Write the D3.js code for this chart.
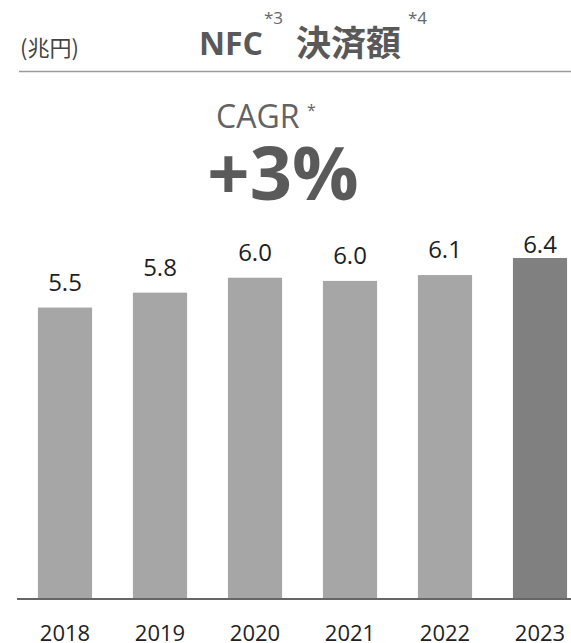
<html>
<head>
<meta charset="utf-8">
<script src="https://d3js.org/d3.v7.min.js"></script>
<style>
    body { margin: 0; background: #ffffff; font-family: "Open Sans", "Noto Sans CJK JP", sans-serif; }
    svg { display: block; }
</style>
</head>
<body>
<div id="chart"></div>
<script>
    // data
    var years = ["2018", "2019", "2020", "2021", "2022", "2023"];
    var values = [5.47, 5.75, 6.03, 5.97, 6.08, 6.40];
    var labels = ["5.5", "5.8", "6.0", "6.0", "6.1", "6.4"];

    var width = 571, height = 643;
    var baseY = 599;

    var svg = d3.select("#chart").append("svg")
        .attr("width", width)
        .attr("height", height);

    var x = d3.scaleBand()
        .domain(years)
        .range([17.5, 587.5])
        .paddingInner(0.43)
        .paddingOuter(0.215);

    var y = d3.scaleLinear()
        .domain([0, 6.4])
        .range([baseY, 258]);

    // header
    svg.append("text")
        .attr("x", 20).attr("y", 56)
        .attr("font-family", "'Noto Sans CJK JP'")
        .attr("font-size", 22)
        .attr("fill", "#444")
        .text("(兆円)");

    svg.append("text")
        .attr("x", 199).attr("y", 55)
        .attr("font-family", "'Open Sans'")
        .attr("font-weight", "bold")
        .attr("font-size", 32)
        .attr("fill", "#595959")
        .text("NFC");
    svg.append("text")
        .attr("x", 264).attr("y", 24)
        .attr("font-family", "'Open Sans'")
        .attr("font-size", 17)
        .attr("fill", "#666")
        .text("*3");
    svg.append("text")
        .attr("x", 296).attr("y", 56)
        .attr("font-family", "'Noto Sans CJK JP'")
        .attr("font-weight", "bold")
        .attr("font-size", 35)
        .attr("fill", "#595959")
        .text("決済額");
    svg.append("text")
        .attr("x", 408).attr("y", 24)
        .attr("font-family", "'Open Sans'")
        .attr("font-size", 17)
        .attr("fill", "#666")
        .text("*4");

    svg.append("line")
        .attr("x1", 19).attr("x2", width)
        .attr("y1", 71.5).attr("y2", 71.5)
        .attr("stroke", "#9a9a9a")
        .attr("stroke-width", 1.5);

    // CAGR
    svg.append("text")
        .attr("x", 216).attr("y", 128)
        .attr("font-family", "'Open Sans'")
        .attr("font-size", 32)
        .attr("fill", "#636363")
        .text("CAGR");
    svg.append("text")
        .attr("x", 307).attr("y", 116)
        .attr("font-family", "'Open Sans'")
        .attr("font-size", 16)
        .attr("fill", "#636363")
        .text("*");
    svg.append("text")
        .attr("x", 283).attr("y", 200)
        .attr("text-anchor", "middle")
        .attr("font-family", "'Open Sans'")
        .attr("font-weight", "bold")
        .attr("font-size", 74)
        .attr("fill", "#5a5a5a")
        .text("+3%");

    // bars
    svg.selectAll("rect.bar")
        .data(values)
        .enter().append("rect")
        .attr("class", "bar")
        .attr("x", function(d, i) { return x(years[i]); })
        .attr("y", function(d) { return y(d); })
        .attr("width", x.bandwidth())
        .attr("height", function(d) { return y(0) - y(d); })
        .attr("fill", function(d, i) { return i == years.length - 1 ? "#808080" : "#a6a6a6"; });

    // value labels (last one sits closer to its bar)
    svg.selectAll("text.val")
        .data(values)
        .enter().append("text")
        .attr("class", "val")
        .attr("x", function(d, i) { return x(years[i]) + x.bandwidth() / 2; })
        .attr("y", function(d) { return Math.max(y(d) - 17, 253); })
        .attr("text-anchor", "middle")
        .attr("font-family", "'Open Sans'")
        .attr("font-size", 24)
        .attr("fill", "#1e1e1e")
        .text(function(d, i) { return labels[i]; });

    // baseline + year labels
    var axis = svg.append("g")
        .attr("transform", "translate(0," + baseY + ")")
        .call(d3.axisBottom(x).tickSize(0).tickPadding(20));
    axis.select(".domain")
        .attr("d", "M17,0H" + width)
        .attr("stroke", "#666")
        .attr("stroke-width", 2);
    axis.selectAll("text")
        .attr("dy", "0")
        .attr("y", 42)
        .attr("font-family", "'Open Sans'")
        .attr("font-size", 22)
        .attr("fill", "#222");
</script>
</body>
</html>
